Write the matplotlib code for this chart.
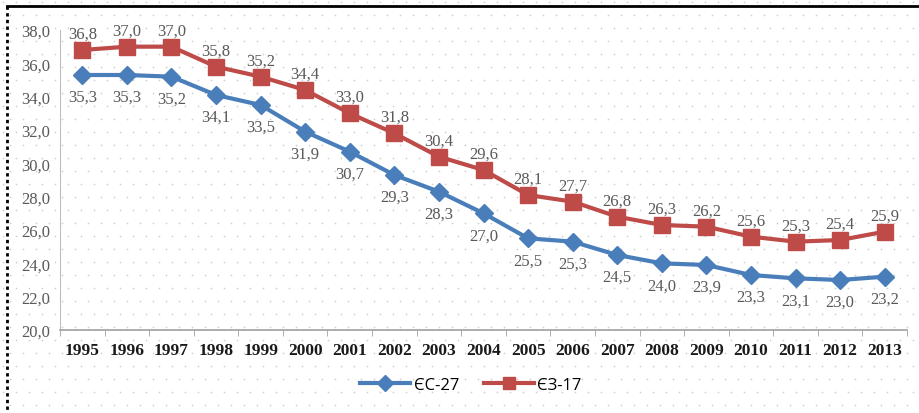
import matplotlib
matplotlib.use("Agg")
import matplotlib.pyplot as plt
import numpy as np

years = [str(y) for y in range(1995, 2014)]
eu27 = [35.3, 35.3, 35.2, 34.1, 33.5, 31.9, 30.7, 29.3, 28.3, 27.0,
        25.5, 25.3, 24.5, 24.0, 23.9, 23.3, 23.1, 23.0, 23.2]
ez17 = [36.8, 37.0, 37.0, 35.8, 35.2, 34.4, 33.0, 31.8, 30.4, 29.6,
        28.1, 27.7, 26.8, 26.3, 26.2, 25.6, 25.3, 25.4, 25.9]
yticks = np.arange(20, 38.1, 2)

blue = "#4A7EBB"
red = "#BE4B48"
grey_txt = "#595959"

fig = plt.figure(figsize=(9.19, 4.14), dpi=100)

# dotted background pattern
bg = fig.add_axes([0, 0, 1, 1])
bg.set_xlim(0, 919)
bg.set_ylim(414, 0)
bg.axis("off")
dx, dy = 13, 13
xs, ys = [], []
for r, yy in enumerate(np.arange(3, 414, dy)):
    off = 0 if r % 2 == 0 else dx / 2
    for xx in np.arange(3 + off, 919, dx):
        xs.append(xx)
        ys.append(yy)
bg.scatter(xs, ys, s=1.5, color="#cfcfcf", linewidths=0)
# outer frame: solid top, dotted left
bg.plot([7, 919], [7, 7], color="black", lw=2)
bg.plot([7, 7], [7, 414], color="black", lw=2, ls=(0, (1.2, 1.2)))

ax = fig.add_axes([60 / 919, 83 / 414, 847 / 919, 300 / 414])
ax.patch.set_alpha(0)
x = np.arange(len(years))
l1, = ax.plot(x, eu27, color=blue, lw=3, marker="D", ms=9,
              markeredgecolor=blue, label="ЄС-27")
l2, = ax.plot(x, ez17, color=red, lw=3, marker="s", ms=11,
              markeredgecolor=red, label="ЄЗ-17")

for xi, v in zip(x, eu27):
    ax.annotate(f"{v:.1f}".replace(".", ","), (xi, v), xytext=(0, -10),
                textcoords="offset points", ha="center", va="top",
                fontsize=12, color=grey_txt, family="Liberation Serif")
for xi, v in zip(x, ez17):
    ax.annotate(f"{v:.1f}".replace(".", ","), (xi, v), xytext=(0, 6),
                textcoords="offset points", ha="center", va="bottom",
                fontsize=12, color=grey_txt, family="Liberation Serif")

ax.set_xlim(-0.5, len(years) - 0.5)
ax.set_ylim(20, 38)
ax.set_yticks(yticks)
ax.set_yticklabels([f"{t:.1f}".replace(".", ",") for t in yticks],
                   family="Liberation Serif", fontsize=12, color=grey_txt)
ax.set_xticks(x)
ax.set_xticklabels(years, family="Liberation Serif", fontsize=12.5,
                   fontweight="bold", color="#1a1a1a")
ax.set_xticks(np.arange(-0.5, len(years), 1), minor=True)
ax.tick_params(axis="x", which="major", length=0, pad=9)
ax.tick_params(axis="x", which="minor", length=4, color="#a0a0a0")
ax.tick_params(axis="y", length=0, pad=7)
for s in ["top", "right"]:
    ax.spines[s].set_visible(False)
ax.spines["left"].set_color("#bfbfbf")
ax.spines["bottom"].set_color("#a0a0a0")
ax.spines["bottom"].set_linewidth(1.2)

fig.legend(handles=[l1, l2], loc="center", bbox_to_anchor=(471 / 919, 1 - 386 / 414),
           ncol=2, frameon=False, prop={"family": "Open Sans", "size": 12},
           handlelength=3, columnspacing=1.5, handletextpad=0.2, markerscale=0.85)

fig.savefig("out.png", dpi=100)
